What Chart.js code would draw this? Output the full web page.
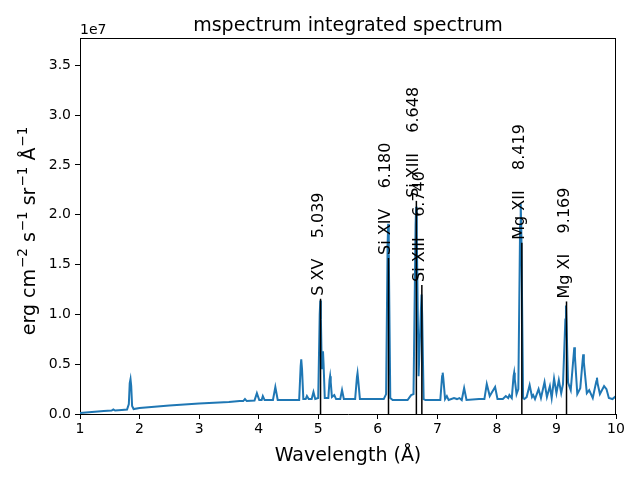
<!DOCTYPE html>
<html>
<head>
<meta charset="utf-8">
<script src="https://cdn.jsdelivr.net/npm/chart.js@4/dist/chart.umd.min.js"></script>
<style>
  html, body { margin: 0; padding: 0; background: #fff; }
  #wrap { width: 640px; height: 480px; }
</style>
</head>
<body>
<div id="wrap"><canvas id="spectrum"></canvas></div>
<script>
// integrated spectrum (flux in units of 1e7 erg cm^-2 s^-1 sr^-1 A^-1)
const wavelength = [
    1.00, 1.20, 1.40, 1.53, 1.56, 1.59, 1.70, 1.79, 1.82, 1.835, 1.848, 1.86,
    1.875, 1.90, 2.00, 2.50, 3.00, 3.50, 3.68, 3.74, 3.77, 3.80, 3.93, 3.97,
    4.01, 4.05, 4.07, 4.10, 4.24, 4.28, 4.32, 4.50, 4.68, 4.705, 4.715, 4.728,
    4.75, 4.79, 4.81, 4.84, 4.89, 4.92, 4.95, 5.00, 5.025, 5.035, 5.045, 5.06,
    5.072, 5.08, 5.09, 5.11, 5.17, 5.19, 5.20, 5.21, 5.23, 5.27, 5.30, 5.37,
    5.40, 5.43, 5.62, 5.65, 5.66, 5.67, 5.70, 6.10, 6.14, 6.165, 6.175, 6.185,
    6.21, 6.25, 6.50, 6.56, 6.60, 6.635, 6.645, 6.655, 6.685, 6.725, 6.735, 6.745,
    6.77, 6.80, 7.05, 7.08, 7.09, 7.10, 7.13, 7.16, 7.19, 7.28, 7.33, 7.37,
    7.41, 7.45, 7.49, 7.70, 7.79, 7.83, 7.88, 7.90, 7.97, 8.01, 8.10, 8.15,
    8.19, 8.21, 8.25, 8.28, 8.29, 8.30, 8.33, 8.36, 8.39, 8.40, 8.41, 8.44,
    8.46, 8.50, 8.55, 8.59, 8.61, 8.64, 8.70, 8.74, 8.80, 8.84, 8.89, 8.92,
    8.96, 9.00, 9.04, 9.08, 9.11, 9.15, 9.16, 9.17, 9.195, 9.24, 9.29, 9.30,
    9.31, 9.35, 9.40, 9.44, 9.45, 9.46, 9.51, 9.55, 9.61, 9.67, 9.68, 9.69,
    9.73, 9.80, 9.84, 9.88, 9.94, 10.00
];
const flux = [
    0.01, 0.02, 0.03, 0.035, 0.045, 0.035, 0.04, 0.045, 0.10, 0.31, 0.35, 0.28,
    0.08, 0.05, 0.06, 0.085, 0.105, 0.12, 0.13, 0.13, 0.15, 0.13, 0.135, 0.21,
    0.14, 0.14, 0.18, 0.14, 0.14, 0.27, 0.14, 0.14, 0.14, 0.48, 0.55, 0.45,
    0.15, 0.15, 0.18, 0.15, 0.15, 0.22, 0.15, 0.16, 1.00, 1.14, 0.95, 0.45,
    0.60, 0.63, 0.50, 0.16, 0.16, 0.34, 0.38, 0.32, 0.17, 0.19, 0.15, 0.15,
    0.24, 0.15, 0.15, 0.37, 0.41, 0.35, 0.15, 0.15, 0.20, 1.70, 1.91, 1.60,
    0.16, 0.14, 0.14, 0.19, 0.20, 1.90, 2.08, 1.80, 0.38, 1.05, 1.20, 1.00,
    0.15, 0.14, 0.14, 0.38, 0.415, 0.36, 0.15, 0.18, 0.14, 0.16, 0.15, 0.16,
    0.14, 0.26, 0.14, 0.15, 0.15, 0.30, 0.18, 0.20, 0.27, 0.15, 0.15, 0.18,
    0.16, 0.19, 0.16, 0.38, 0.415, 0.35, 0.20, 0.25, 1.90, 2.11, 1.85, 0.16,
    0.15, 0.17, 0.29, 0.17, 0.19, 0.15, 0.25, 0.16, 0.32, 0.17, 0.28, 0.16,
    0.355, 0.21, 0.34, 0.21, 0.30, 0.95, 1.09, 0.90, 0.315, 0.24, 0.60, 0.67,
    0.58, 0.20, 0.26, 0.54, 0.60, 0.52, 0.21, 0.24, 0.16, 0.33, 0.365, 0.31,
    0.20, 0.28, 0.25, 0.16, 0.15, 0.18
];

// identified lines
const lineWavelengths = [5.039, 6.180, 6.648, 6.740, 8.419, 9.169];
const lineHeights = [1.157, 1.566, 2.14, 1.295, 1.72, 1.13];
const lineIons = ['S XV', 'Si XIV', 'Si XIII', 'Si XIII', 'Mg XII', 'Mg XI'];

const xTicks = [1, 2, 3, 4, 5, 6, 7, 8, 9, 10];
const yTicks = [0.0, 0.5, 1.0, 1.5, 2.0, 2.5, 3.0, 3.5];

const FONT = "'DejaVu Sans', 'Liberation Sans', sans-serif";

// y label pieces: [text, isSuperscript]
const yLabelParts = [
    ['erg cm', false], ['\u22122', true],
    [' s', false], ['\u22121', true],
    [' sr', false], ['\u22121', true],
    [' Å', false], ['\u22121', true]
];

const lineSets = lineWavelengths.map((w, i) => ({
    label: lineIons[i],
    data: [{ x: w, y: 0 }, { x: w, y: lineHeights[i] }],
    borderColor: '#000',
    borderWidth: 1.5,
    pointRadius: 0,
    order: 0
}));

const canvas = document.getElementById('spectrum');
const ctx = canvas.getContext('2d');

new Chart(ctx, {
    type: 'line',
    data: {
        datasets: [
            ...lineSets,
            {
                label: 'spectrum',
                data: wavelength.map((w, i) => ({ x: w, y: flux[i] })),
                borderColor: '#1f77b4',
                borderWidth: 2,
                pointRadius: 0,
                tension: 0,
                order: 1
            }
        ]
    },
    options: {
        responsive: true,
        maintainAspectRatio: false,
        animation: false,
        layout: {
            padding: { top: 38, right: 24, bottom: 0, left: 0 }
        },
        scales: {
            x: {
                type: 'linear',
                min: 1,
                max: 10,
                afterBuildTicks: (s) => { s.ticks = xTicks.map(v => ({ value: v })); },
                afterFit: (s) => { s.height = 66; },
                ticks: {
                    color: '#000',
                    font: { family: FONT, size: 14 },
                    padding: 2,
                    maxRotation: 0,
                    callback: (v) => String(v)
                },
                grid: {
                    drawOnChartArea: false,
                    drawTicks: true,
                    tickLength: 5,
                    tickColor: '#000'
                },
                border: { display: true, color: '#000', width: 1 }
            },
            y: {
                min: 0,
                max: 3.775,
                afterBuildTicks: (s) => { s.ticks = yTicks.map(v => ({ value: v })); },
                afterFit: (s) => { s.width = 80; },
                ticks: {
                    color: '#000',
                    font: { family: FONT, size: 14 },
                    padding: 4,
                    callback: (v) => v.toFixed(1)
                },
                grid: {
                    drawOnChartArea: false,
                    drawTicks: true,
                    tickLength: 5,
                    tickColor: '#000'
                },
                border: { display: true, color: '#000', width: 1 }
            }
        },
        plugins: {
            legend: { display: false },
            tooltip: { enabled: false }
        }
    },
    plugins: [{
        id: 'frameAndText',
        afterDatasetsDraw: (chart) => {
            const c = chart.ctx;
            const area = chart.chartArea;
            const xs = chart.scales.x;
            const ys = chart.scales.y;

            // top and right spines
            c.save();
            c.strokeStyle = '#000';
            c.lineWidth = 1;
            c.beginPath();
            c.moveTo(area.left, area.top + 0.5);
            c.lineTo(area.right, area.top + 0.5);
            c.moveTo(area.right - 0.5, area.top);
            c.lineTo(area.right - 0.5, area.bottom);
            c.stroke();
            c.restore();

            // line labels
            c.save();
            c.fillStyle = '#000';
            c.font = '16px ' + FONT;
            c.textAlign = 'left';
            c.textBaseline = 'alphabetic';
            lineWavelengths.forEach((w, i) => {
                const px = xs.getPixelForValue(w);
                const py = ys.getPixelForValue(lineHeights[i]);
                c.save();
                c.translate(px + 2, py - 3);
                c.rotate(-Math.PI / 2);
                c.fillText(lineIons[i] + '    ' + w.toFixed(3), 0, 0);
                c.restore();
            });
            c.restore();
        },
        afterDraw: (chart) => {
            const c = chart.ctx;
            const area = chart.chartArea;

            c.save();
            c.fillStyle = '#000';

            // title
            c.font = '19px ' + FONT;
            c.textAlign = 'center';
            c.textBaseline = 'alphabetic';
            c.fillText('mspectrum integrated spectrum', (area.left + area.right) / 2, 31);

            // offset text
            c.font = '14px ' + FONT;
            c.textAlign = 'left';
            c.fillText('1e7', area.left, 34);

            // x axis title
            c.font = '19px ' + FONT;
            c.textAlign = 'center';
            c.fillText('Wavelength (Å)', (area.left + area.right) / 2, 461);

            // y axis title with superscripts
            const baseFont = '19px ' + FONT;
            const supFont = '13.5px ' + FONT;
            let total = 0;
            const widths = yLabelParts.map(([t, sup]) => {
                c.font = sup ? supFont : baseFont;
                const wd = c.measureText(t).width + (sup ? 1 : 0);
                total += wd;
                return wd;
            });
            c.translate(35, 231);
            c.rotate(-Math.PI / 2);
            c.textAlign = 'left';
            let pos = -total / 2;
            yLabelParts.forEach(([t, sup], i) => {
                c.font = sup ? supFont : baseFont;
                c.fillText(t, pos + (sup ? 1 : 0), sup ? -8 : 0);
                pos += widths[i];
            });
            c.restore();
        }
    }]
});
</script>
</body>
</html>
